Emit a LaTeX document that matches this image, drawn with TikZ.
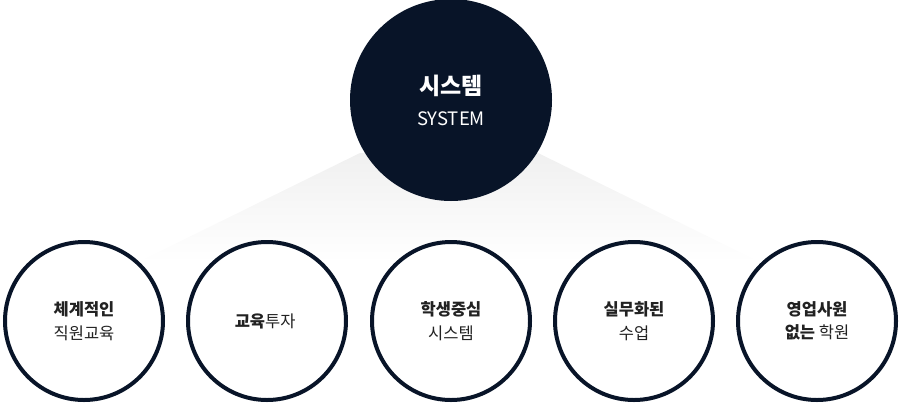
\documentclass[tikz,border=0pt]{standalone}
\usepackage{fontspec}
\setmainfont{Noto Sans CJK KR}
\usepackage{tikz}
\usetikzlibrary{positioning, calc, shadings}
\definecolor{sysNavy}{RGB}{8, 20, 40}
\definecolor{sysText}{RGB}{34, 34, 34}
\definecolor{sysShade}{RGB}{240, 240, 240}
\tikzset{
  syscircle/.style={circle, fill=sysNavy, minimum size=202pt, inner sep=0pt,
                    align=center, text=white, font=\fontsize{18.5}{31}\selectfont},
  subcircle/.style={circle, draw=sysNavy, fill=white, line width=4pt,
                    minimum size=158pt, inner sep=0pt,
                    align=center, text=sysText, font=\fontsize{16.5}{23.5}\selectfont},
}

\begin{document}
\begin{tikzpicture}[x=1pt, y=-1pt]
    \useasboundingbox (0,0) rectangle (899,405);

    \shade[top color=sysShade, bottom color=white]
      (360,153) -- (538,153) -- (760,262) -- (138,262) -- cycle;

    \node[syscircle] (SYS) at (451,100) {
      {\fontsize{23}{31}\selectfont\bfseries 시스템}\\
      SYSTEM
    };

    \node[subcircle] (C1) at (84,321) {
      \textbf{체계적인}\\
      직원교육
    };

    \node[subcircle] (C2) at (267,321) {
      \textbf{교육}투자
    };

    \node[subcircle] (C3) at (451,321) {
      \textbf{학생중심}\\
      시스템
    };

    \node[subcircle] (C4) at (634,321) {
      \textbf{실무화된}\\
      수업
    };

    \node[subcircle] (C5) at (817,321) {
      \textbf{영업사원}\\
      \textbf{없는} 학원
    };
  \end{tikzpicture}
\end{document}
